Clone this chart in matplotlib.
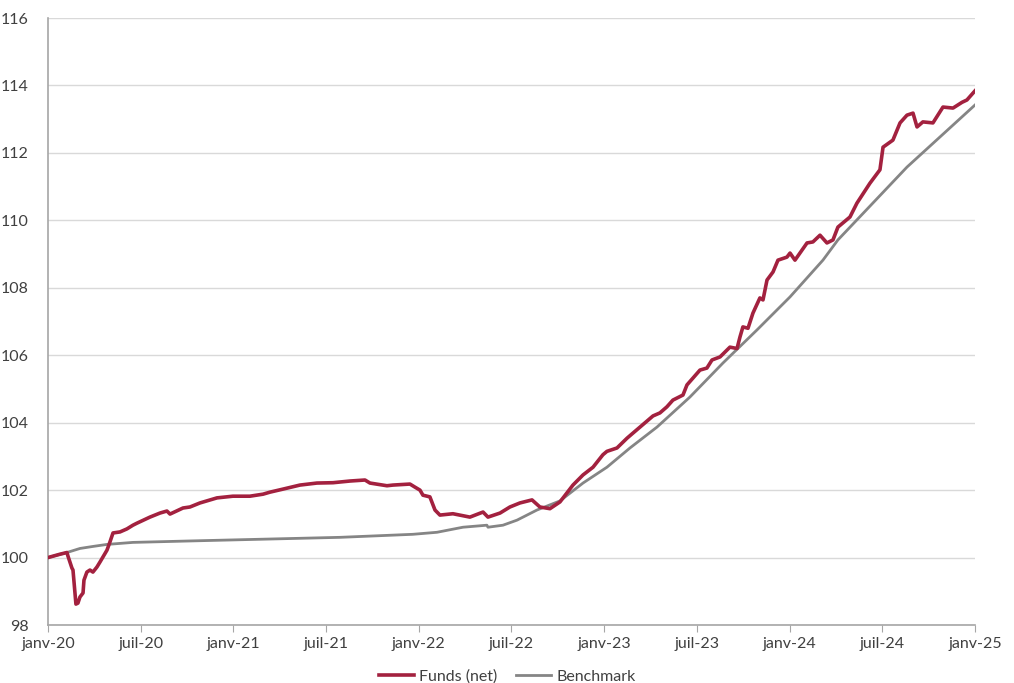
import matplotlib
matplotlib.use('Agg')
import matplotlib.pyplot as plt

# Month offsets from janv-20 and index values
funds_t = [0, 0.78, 1.23, 1.29, 1.55, 1.62, 1.81, 1.94, 2.07, 2.27, 2.33, 2.52, 2.72, 2.91,
           3.17, 3.37, 3.82, 4.01, 4.21, 4.66, 5.11, 5.50, 5.76, 6.60, 7.25, 7.70, 7.90,
           8.74, 9.19, 9.84, 10.94, 11.97, 13.07, 13.92, 14.37, 15.21, 16.31, 17.41, 18.45,
           19.55, 20.52, 20.84, 21.94, 22.33, 23.43, 23.75, 24.08, 24.27, 24.72, 25.05,
           25.37, 26.21, 27.31, 28.16, 28.48, 29.26, 29.90, 30.55, 31.33, 31.84, 32.49,
           33.14, 33.98, 34.63, 35.28, 35.92, 36.18, 36.83, 37.48, 37.86, 38.32, 39.16,
           39.61, 40.06, 40.45, 41.10, 41.36, 42.20, 42.65, 42.98, 43.50, 44.14, 44.60,
           44.79, 44.98, 45.31, 45.63, 46.08, 46.28, 46.54, 46.93, 47.25, 47.83, 48.03,
           48.35, 49.13, 49.51, 49.97, 50.42, 50.81, 51.13, 51.91, 52.36, 53.20,
           53.85, 54.05, 54.69, 55.15, 55.60, 55.99, 56.25, 56.63, 57.28, 57.93, 58.58,
           59.16, 59.48, 60.0]
funds_v = [100.0, 100.1, 100.15, 100.05, 99.69, 99.63, 98.62, 98.65, 98.83, 98.95, 99.33,
           99.57, 99.63, 99.57, 99.72, 99.87, 100.22, 100.46, 100.73, 100.76, 100.85, 100.96,
           101.02, 101.2, 101.32, 101.38, 101.29, 101.47, 101.5, 101.62, 101.77, 101.82,
           101.82, 101.88, 101.94, 102.03, 102.15, 102.21, 102.22, 102.27, 102.3, 102.21,
           102.13, 102.15, 102.18, 102.09, 102.0, 101.85, 101.8, 101.41, 101.26, 101.3,
           101.2, 101.35, 101.2, 101.32, 101.5, 101.62, 101.71, 101.5, 101.45, 101.65,
           102.15, 102.45, 102.68, 103.05, 103.15, 103.25, 103.54, 103.69, 103.87, 104.2,
           104.29, 104.47, 104.67, 104.82, 105.12, 105.56, 105.62, 105.86, 105.95, 106.24,
           106.2, 106.54, 106.84, 106.8, 107.25, 107.7, 107.64, 108.23, 108.47, 108.82,
           108.91, 109.03, 108.82, 109.33, 109.36, 109.56, 109.33, 109.42, 109.8, 110.1,
           110.51, 111.1, 111.5, 112.17, 112.38, 112.89, 113.12, 113.18, 112.77, 112.92,
           112.89, 113.36, 113.33, 113.5, 113.57, 113.84]

bench_t = [0, 1.23, 2.07, 2.91, 3.82, 5.50, 9.84, 18.9, 23.62, 25.18, 26.86, 28.41, 28.48,
           29.45, 30.36, 31.65, 33.14, 34.63, 36.18, 37.67, 39.42, 41.55, 43.69, 45.89,
           48.03, 50.16, 51.13, 55.6, 60.0]
bench_v = [100.0, 100.15, 100.27, 100.33, 100.39, 100.45, 100.5, 100.6, 100.69, 100.75,
           100.9, 100.96, 100.9, 100.96, 101.11, 101.41, 101.68, 102.21, 102.68, 103.25,
           103.87, 104.76, 105.77, 106.75, 107.73, 108.82, 109.42, 111.58, 113.42]

tick_pos = [0, 6, 12, 18, 24, 30, 36, 42, 48, 54, 60]
tick_labels = ['janv-20', 'juil-20', 'janv-21', 'juil-21', 'janv-22', 'juil-22',
               'janv-23', 'juil-23', 'janv-24', 'juil-24', 'janv-25']

plt.rcParams['font.family'] = ['Lato', 'DejaVu Sans']

fig = plt.figure(figsize=(10.14, 6.83), dpi=100)
ax = fig.add_axes([0.0473, 0.0849, 0.9142, 0.8887])

ax.plot(funds_t, funds_v, color='#A3213F', lw=2.6, label='Funds (net)', zorder=3)
ax.plot(bench_t, bench_v, color='#858585', lw=2.0, label='Benchmark', zorder=2)

ax.set_xlim(0, 60)
ax.set_ylim(98, 116)
ax.set_yticks(range(98, 117, 2))
ax.set_xticks(tick_pos)
ax.set_xticklabels(tick_labels)
ax.grid(axis='y', color='#d9d9d9', lw=1)
ax.set_axisbelow(True)

for s in ['top', 'right']:
    ax.spines[s].set_visible(False)
for s in ['left', 'bottom']:
    ax.spines[s].set_color('#a6a6a6')
    ax.spines[s].set_linewidth(1.2)
ax.tick_params(axis='y', length=0, pad=14, labelsize=11.5, labelcolor='#404040')
ax.tick_params(axis='x', length=5, color='#a6a6a6', labelsize=11.5, labelcolor='#404040')

fig.legend(loc='lower center', bbox_to_anchor=(0.5, -0.022), ncol=2, frameon=False,
           fontsize=11.5, handlelength=2.2, handletextpad=0.3, columnspacing=1.2,
           labelcolor='#404040')

fig.savefig('out.png', dpi=100)
